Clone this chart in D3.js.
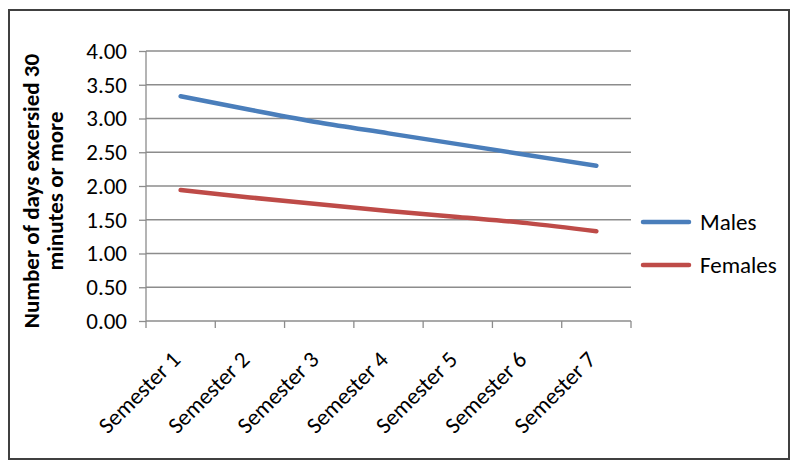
<!DOCTYPE html>
<html><head><meta charset="utf-8">
<script src="https://cdn.jsdelivr.net/npm/d3@7/dist/d3.min.js"></script>
<style>
html,body{margin:0;padding:0;background:#fff;}
text{font-family:Carlito,Lato,"Open Sans",sans-serif;fill:#000;}
</style></head>
<body><svg id="c" width="800" height="469"></svg>
<script>
const categories = ["Semester 1","Semester 2","Semester 3","Semester 4","Semester 5","Semester 6","Semester 7"];
const males = [3.33, 3.13, 2.94, 2.78, 2.62, 2.46, 2.30];
const females = [1.94, 1.83, 1.73, 1.63, 1.54, 1.45, 1.33];
const yTicks = [0, 0.5, 1, 1.5, 2, 2.5, 3, 3.5, 4];
const seriesNames = ["Males", "Females"];
const colors = ["#4A7EBB", "#BE4B48"];

const svg = d3.select("#c");
svg.append("rect").attr("x",9).attr("y",10).attr("width",780).attr("height",449)
  .attr("fill","#fff").attr("stroke","#404040").attr("stroke-width",2);

const L=146, R=631, T=51, B=321;
const FS = 23;
const x = d3.scaleBand().domain(categories).range([L,R]);
const y = d3.scaleLinear().domain([0,4]).range([B,T]);

// gridlines
svg.append("g").selectAll("line").data(yTicks.filter(d=>d>0)).join("line")
  .attr("x1",L).attr("x2",R).attr("y1",d=>y(d)).attr("y2",d=>y(d))
  .attr("stroke","#8c8c8c").attr("stroke-width",1.3);

// y axis
const yAxis = svg.append("g").attr("transform",`translate(${L},0)`)
  .call(d3.axisLeft(y).tickValues(yTicks).tickFormat(d3.format(".2f")).tickSize(7).tickPadding(12));
yAxis.select(".domain").attr("stroke","#8c8c8c").attr("stroke-width",1.3).attr("d",`M0,${T}V${B}`);
yAxis.selectAll(".tick line").attr("stroke","#8c8c8c").attr("stroke-width",1.3);
yAxis.selectAll(".tick text").attr("font-size",FS).attr("font-family","Carlito,Lato,sans-serif").attr("fill","#000");

// x axis
const xAxis = svg.append("g").attr("transform",`translate(0,${B})`)
  .call(d3.axisBottom(x).tickSize(0).tickFormat(""));
xAxis.select(".domain").attr("stroke","#8c8c8c").attr("stroke-width",1.3).attr("d",`M${L},0H${R}`);
const bounds = categories.map(c=>x(c)).concat([R]);
xAxis.append("g").selectAll("line").data(bounds).join("line")
  .attr("x1",d=>d).attr("x2",d=>d).attr("y1",0).attr("y2",7)
  .attr("stroke","#8c8c8c").attr("stroke-width",1.3);
svg.append("g").selectAll("text").data(categories).join("text")
  .attr("transform",d=>`translate(${x(d)+x.bandwidth()/2+1},${B+40}) rotate(-45)`)
  .attr("text-anchor","end").attr("font-size",FS).text(d=>d);

// lines
const line = d3.line().x((d,i)=>x(categories[i])+x.bandwidth()/2).y(d=>y(d)).curve(d3.curveCatmullRom.alpha(0.5));
[males, females].forEach((s,i)=>{
  svg.append("path").datum(s).attr("d",line).attr("fill","none")
    .attr("stroke",colors[i]).attr("stroke-width",4.5).attr("stroke-linecap","round");
});

// y title
const yt = svg.append("text").attr("transform","translate(0,191) rotate(-90)")
  .attr("text-anchor","middle").attr("font-size",FS).attr("font-weight","bold");
yt.append("tspan").attr("x",0).attr("y",39).text("Number of days excersied 30");
yt.append("tspan").attr("x",0).attr("y",63).text("minutes or more");

// legend
const lg = svg.append("g");
seriesNames.forEach((n,i)=>{
  const yy = [222,265][i];
  lg.append("line").attr("x1",643).attr("x2",689).attr("y1",yy).attr("y2",yy)
    .attr("stroke",colors[i]).attr("stroke-width",4.5).attr("stroke-linecap","round");
  lg.append("text").attr("x",700).attr("y",yy+8).attr("font-size",FS).text(n);
});
</script></body></html>
